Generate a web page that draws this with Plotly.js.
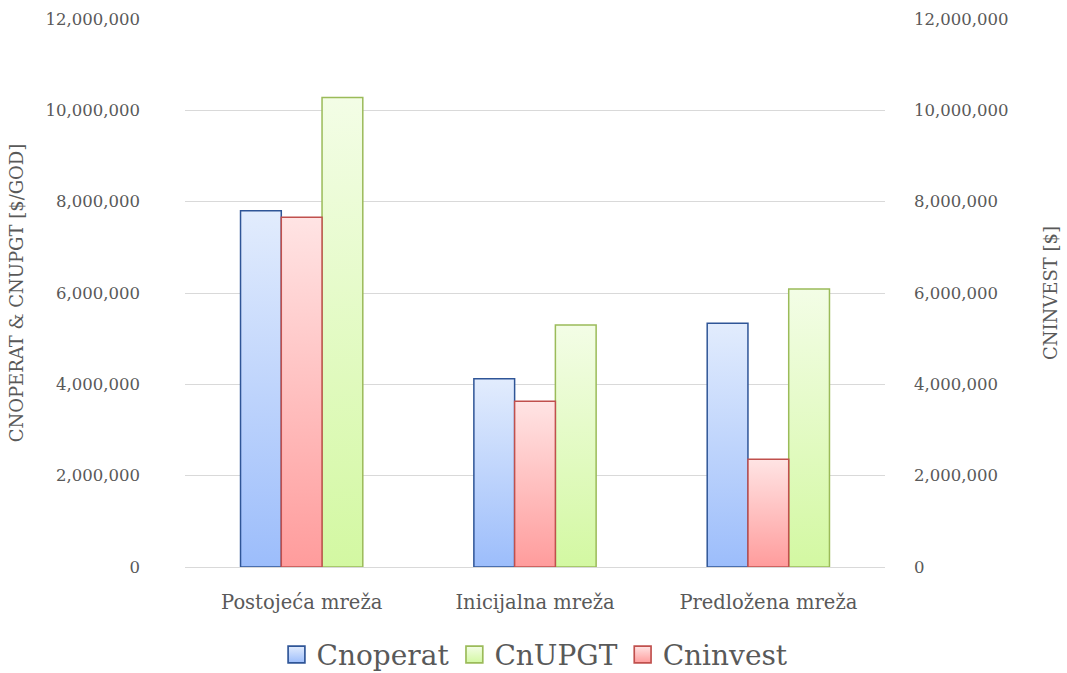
<!DOCTYPE html>
<html>
<head>
<meta charset="utf-8">
<script src="https://cdn.plot.ly/plotly-3.0.1.min.js"></script>
<style>html,body{margin:0;padding:0;background:#fff;}#chart{width:1067px;height:673px;}</style>
</head>
<body>
<div id="chart"></div>
<script>
const categories = ["Postojeća mreža", "Inicijalna mreža", "Predložena mreža"];
const cnoperat = [7800000, 4120000, 5340000];
const cninvest = [7660000, 3630000, 2360000];
const cnupgt = [10280000, 5300000, 6090000];
const tickVals = [0, 2000000, 4000000, 6000000, 8000000, 10000000, 12000000];
const tickText = ["0", "2,000,000", "4,000,000", "6,000,000", "8,000,000", "10,000,000", "12,000,000"];

const FONT = "DejaVu Serif, Liberation Serif, serif";

const traces = [
  {type: "bar", name: "Cnoperat", x: categories, y: cnoperat, yaxis: "y", offsetgroup: "1", alignmentgroup: "a", legendrank: 1,
   marker: {color: "#c5d8fb", line: {color: "#2f5597", width: 1.5}}},
  {type: "bar", name: "Cninvest", x: categories, y: cninvest, yaxis: "y2", offsetgroup: "2", alignmentgroup: "a", legendrank: 3,
   marker: {color: "#ffc4c4", line: {color: "#c0504d", width: 1.5}}},
  {type: "bar", name: "CnUPGT", x: categories, y: cnupgt, yaxis: "y", offsetgroup: "3", alignmentgroup: "a", legendrank: 2,
   marker: {color: "#e6fbc8", line: {color: "#9bbb59", width: 1.5}}}
];

const axisCommon = {
  range: [0, 12000000], tickvals: tickVals, ticktext: tickText,
  tickfont: {family: FONT, size: 16.5, color: "#595959"}, showline: false, zeroline: false, fixedrange: true
};

const layout = {
  width: 1067, height: 673,
  margin: {l: 185, r: 182, t: 19, b: 106, autoexpand: false},
  paper_bgcolor: "#ffffff", plot_bgcolor: "#ffffff",
  barmode: "group", bargap: 0.476, bargroupgap: 0,
  showlegend: true,
  legend: {orientation: "h", x: 0.5, xanchor: "center", yref: "container", y: 0.027, yanchor: "middle",
           bgcolor: "rgba(0,0,0,0)",
           font: {family: FONT, size: 28, color: "#595959"}, traceorder: "normal", itemwidth: 30},
  xaxis: {tickfont: {family: FONT, size: 19.5, color: "#595959"}, showline: true, linecolor: "#d9d9d9", linewidth: 1,
          ticks: "", showgrid: false, fixedrange: true, ticklabelstandoff: 18},
  yaxis: Object.assign({}, axisCommon, {
    showgrid: true, gridcolor: "#d9d9d9", gridwidth: 1, ticks: "", ticklabelstandoff: 44,
    title: {text: "CNOPERAT & CNUPGT [$/GOD]", font: {family: FONT, size: 18, color: "#595959"}, standoff: 17}
  }),
  yaxis2: Object.assign({}, axisCommon, {
    overlaying: "y", side: "right", showgrid: false, ticks: "", ticklabelstandoff: 28,
    title: {text: "CNINVEST [$]", font: {family: FONT, size: 18, color: "#595959"}, standoff: 36}
  })
};

const grads = [
  {id: "gBlue", top: "#e2ecfd", bottom: "#9cbdfb"},
  {id: "gRed", top: "#ffe4e4", bottom: "#ff9c9c"},
  {id: "gGreen", top: "#f3fde6", bottom: "#d3f8a2"}
];

Plotly.newPlot("chart", traces, layout, {displayModeBar: false, staticPlot: true}).then(function (gd) {
  const svg = gd.querySelector("svg.main-svg");
  const ns = "http://www.w3.org/2000/svg";
  let defs = svg.querySelector("defs");
  if (!defs) { defs = document.createElementNS(ns, "defs"); svg.insertBefore(defs, svg.firstChild); }
  grads.forEach(function (g) {
    const lg = document.createElementNS(ns, "linearGradient");
    lg.setAttribute("id", g.id);
    lg.setAttribute("x1", "0"); lg.setAttribute("y1", "0");
    lg.setAttribute("x2", "0"); lg.setAttribute("y2", "1");
    const s1 = document.createElementNS(ns, "stop");
    s1.setAttribute("offset", "0"); s1.setAttribute("stop-color", g.top);
    const s2 = document.createElementNS(ns, "stop");
    s2.setAttribute("offset", "1"); s2.setAttribute("stop-color", g.bottom);
    lg.appendChild(s1); lg.appendChild(s2); defs.appendChild(lg);
  });
  const idByName = {"Cnoperat": "gBlue", "Cninvest": "gRed", "CnUPGT": "gGreen"};
  function nameOf(el) {
    const d = el.__data__;
    if (d && d[0] && d[0].trace) return d[0].trace.name;
    return null;
  }
  gd.querySelectorAll(".barlayer .trace").forEach(function (t) {
    const id = idByName[nameOf(t)];
    if (id) t.querySelectorAll("path").forEach(function (p) { p.style.fill = "url(#" + id + ")"; });
  });
  gd.querySelectorAll(".legend .traces").forEach(function (t) {
    const id = idByName[nameOf(t)];
    if (id) t.querySelectorAll(".legendpoints path").forEach(function (p) {
      p.style.fill = "url(#" + id + ")";
      const tr = p.getAttribute("transform") || "";
      p.setAttribute("transform", tr + " scale(1.4)");
      p.style.strokeWidth = "1.2px";
    });
  });
});
</script>
</body>
</html>
